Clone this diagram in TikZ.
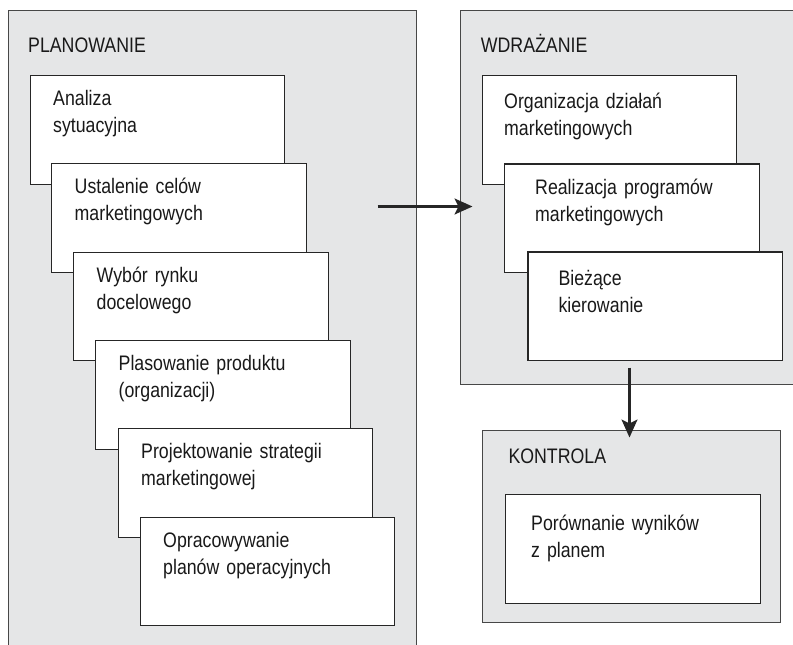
\documentclass[tikz,border=0pt]{standalone}
\usepackage{fontspec}
\setmainfont{Liberation Sans}[FakeStretch=0.845]
\usetikzlibrary{arrows.meta}
\definecolor{panelfill}{HTML}{E5E6E7}
\definecolor{edge}{HTML}{262626}
\begin{document}
\begin{tikzpicture}[x=1pt,y=-1pt,
  panel/.style={draw=edge!85, fill=panelfill, line width=1.3pt, rectangle, inner sep=0pt, anchor=north west},
  stepbox/.style={draw=edge, fill=white, line width=1.2pt, rectangle, inner sep=0pt, anchor=north west, minimum width=254.5pt, minimum height=108.5pt},
  title/.style={anchor=base west, inner sep=0pt, text=black!90, font=\fontsize{21}{27}\selectfont},
  txt/.style={anchor=base west, inner sep=0pt, text width=240pt, align=left, text=black!90, font=\fontsize{21}{27}\selectfont},
  arr/.style={draw=edge, line width=2.3pt, -{Stealth[length=18pt,width=16pt,inset=4pt]}}]
\useasboundingbox (0,0) rectangle (793,645);
\clip (0,0) rectangle (793,645);

% panels
\node[panel, minimum width=408pt, minimum height=645pt] (plan) at (7.5,9.5) {};
\node[panel, minimum width=345pt, minimum height=374.5pt] (wdr) at (459.5,9.5) {};
\node[panel, minimum width=298pt, minimum height=192pt] (kon) at (481.5,429.5) {};

% titles
\node[title] (tplan) at (28,52.3) {PLANOWANIE};
\node[title] (twdr) at (480.7,52) {WDRAŻANIE};
\node[title] (tkon) at (508.3,463.7) {KONTROLA};

% planning boxes
\node[stepbox] (p1) at (29.5,75) {};
\node[txt] (tp1) at ([shift={(23.5,30.5)}]p1.north west) {Analiza\\sytuacyjna};
\node[stepbox] (p2) at (51,163) {};
\node[txt] (tp2) at ([shift={(23.5,30.5)}]p2.north west) {Ustalenie celów\\marketingowych};
\node[stepbox] (p3) at (73,251.5) {};
\node[txt] (tp3) at ([shift={(23.5,30.5)}]p3.north west) {Wybór rynku\\docelowego};
\node[stepbox] (p4) at (95,340) {};
\node[txt] (tp4) at ([shift={(23.5,30.5)}]p4.north west) {Plasowanie produktu\\(organizacji)};
\node[stepbox] (p5) at (117.5,428) {};
\node[txt] (tp5) at ([shift={(23.5,30.5)}]p5.north west) {Projektowanie strategii\\marketingowej};
\node[stepbox] (p6) at (139.5,516.5) {};
\node[txt] (tp6) at ([shift={(23.5,30.5)}]p6.north west) {Opracowywanie\\planów operacyjnych};

% implementation boxes
\node[stepbox] (w1) at (481.5,75) {};
\node[txt] (tw1) at ([shift={(22.5,33.8)}]w1.north west) {Organizacja działań\\marketingowych};
\node[stepbox] (w2) at (504,163.3) {};
\node[txt] (tw2) at ([shift={(31,31)}]w2.north west) {Realizacja programów\\marketingowych};
\node[stepbox] (w3) at (527.3,251.3) {};
\node[txt] (tw3) at ([shift={(31,33.7)}]w3.north west) {Bieżące\\kierowanie};

% control box
\node[stepbox, minimum width=255pt, minimum height=108.7pt] (k1) at (505,494) {};
\node[txt] (tk1) at ([shift={(26,36.7)}]k1.north west) {Porównanie wyników\\z planem};

% arrows
\coordinate (a1s) at (377.5,206.5);
\coordinate (a1e) at (472.5,206.5);
\draw[arr] (a1s) -- (a1e);
\coordinate (a2s) at (629.5,367.5);
\coordinate (a2e) at (629.5,437.5);
\draw[arr] (a2s) -- (a2e);
\end{tikzpicture}
\end{document}
